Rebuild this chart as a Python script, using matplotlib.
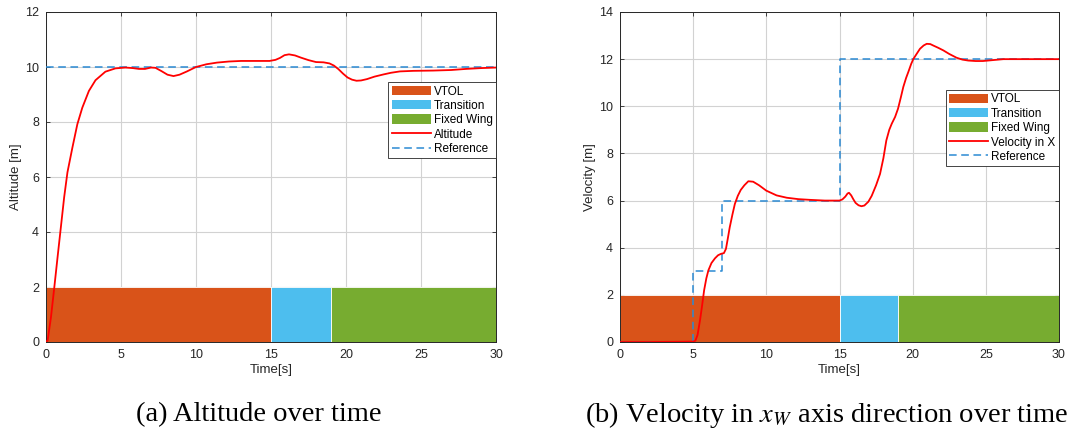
import numpy as np
import matplotlib.pyplot as plt
from matplotlib.patches import Patch
from matplotlib.lines import Line2D

# flight phases (start, end) in seconds, drawn as bars of height 2
phase_names = ["VTOL", "Transition", "Fixed Wing"]
phase_start = [0, 15, 19]
phase_end = [15, 19, 30]
phase_height = 2
phase_colors = ["#D95319", "#4DBEEE", "#77AC30"]

# altitude response
alt_t = [0, 0.11, 0.33, 0.55, 0.77, 0.99, 1.21, 1.43, 1.76, 2.09, 2.42, 2.86, 3.3, 3.96,
         4.63, 5.29, 5.8, 6.2, 6.6, 7.0, 7.3, 7.7, 8.1, 8.5, 8.9, 9.4, 10.0, 10.7,
         11.4, 12.2, 13.0, 14.0, 14.9, 15.3, 15.6, 15.9, 16.2, 16.6, 17.0, 17.5, 18.0,
         18.5, 18.9, 19.2, 19.5, 19.8, 20.1, 20.4, 20.7, 21.0, 21.4, 21.9, 22.5, 23.0,
         23.6, 24.5, 25.8, 27.0, 28.0, 29.0, 30.0]
alt_v = [0, 0.06, 0.9, 1.97, 3.08, 4.17, 5.26, 6.17, 7.07, 7.92, 8.52, 9.13, 9.52, 9.83,
         9.95, 9.98, 9.96, 9.93, 9.93, 9.98, 9.97, 9.85, 9.72, 9.67, 9.72, 9.84,
         10.0, 10.1, 10.16, 10.2, 10.22, 10.22, 10.22, 10.26, 10.33, 10.43, 10.46, 10.42,
         10.34, 10.25, 10.18, 10.17, 10.13, 10.05, 9.92, 9.76, 9.62, 9.54, 9.5, 9.51, 9.56,
         9.65, 9.73, 9.79, 9.84, 9.86, 9.87, 9.89, 9.93, 9.96, 9.98]
alt_ref_t = [0, 30]
alt_ref_v = [10, 10]

# velocity response along x
vel_t = [0, 2.0, 4.0, 5.0, 5.15, 5.3, 5.47, 5.6, 5.75, 5.9, 6.04, 6.25, 6.49, 6.7, 6.9,
         7.1, 7.24, 7.37, 7.5, 7.68, 7.85, 8.05, 8.25, 8.5, 8.77, 9.1, 9.5, 10.0, 10.7,
         11.4, 12.2, 13.0, 14.0, 15.0, 15.2, 15.4, 15.55, 15.65, 15.8, 15.95, 16.1, 16.3,
         16.5, 16.7, 16.97, 17.2, 17.5, 17.77, 18.0, 18.2, 18.4, 18.57, 18.8, 19.0,
         19.2, 19.36, 19.55, 19.7, 19.9, 20.05, 20.3, 20.5, 20.75, 20.96, 21.2, 21.4,
         21.75, 22.1, 22.5, 23.0, 23.4, 23.8, 24.3, 24.8, 25.5, 26.2, 27.5, 30.0]
vel_v = [0, 0, 0.01, 0.02, 0.05, 0.3, 0.93, 1.5, 2.2, 2.7, 3.04, 3.35, 3.55, 3.68, 3.74,
         3.77, 3.95, 4.4, 4.87, 5.4, 5.86, 6.2, 6.45, 6.65, 6.82, 6.8, 6.65, 6.42, 6.22,
         6.12, 6.06, 6.03, 6.0, 6.0, 6.05, 6.17, 6.3, 6.33, 6.22, 6.05, 5.9, 5.8, 5.76,
         5.79, 5.95, 6.2, 6.65, 7.13, 7.8, 8.55, 9.0, 9.26, 9.55, 9.9, 10.4, 10.82, 11.2,
         11.45, 11.8, 12.01, 12.25, 12.44, 12.58, 12.65, 12.64, 12.58, 12.48, 12.37,
         12.22, 12.06, 11.98, 11.94, 11.92, 11.92, 11.96, 12.0, 12.0, 12.0]
vel_ref_t = [0, 5, 5, 7, 7, 15, 15, 30]
vel_ref_v = [0, 0, 3, 3, 6, 6, 12, 12]

plt.rcParams["font.family"] = ["Liberation Sans", "DejaVu Sans"]
plt.rcParams["mathtext.fontset"] = "stix"

fig = plt.figure(figsize=(10.67, 4.32), dpi=100)
ax1 = fig.add_axes([46 / 1067, 90 / 432, 450 / 1067, 330 / 432])
ax2 = fig.add_axes([620 / 1067, 90 / 432, 439 / 1067, 330 / 432])

ref_color = "#2b8ad3"
text_color = "#262626"


def draw_panel(ax, t, v, ref_t, ref_v, ymax, line_label, legend_top):
    ax.bar(phase_start, phase_height, width=np.subtract(phase_end, phase_start),
           align="edge", color=phase_colors, edgecolor="white", linewidth=0.6, zorder=2)
    ax.plot(ref_t, ref_v, color=ref_color, linestyle=(0, (5, 3)), linewidth=1.1, zorder=3)
    ax.plot(t, v, color="#ff0000", linewidth=1.3, zorder=4)
    ax.set_xlim(0, 30)
    ax.set_ylim(0, ymax)
    ax.set_xticks(range(0, 31, 5))
    ax.set_yticks(range(0, ymax + 1, 2))
    ax.grid(True, color="#d2d2d2", linewidth=0.8, zorder=0)
    ax.set_axisbelow(True)
    ax.tick_params(direction="in", length=3, width=0.6, labelsize=9,
                   colors=text_color, top=True, right=True, pad=5)
    for s in ax.spines.values():
        s.set_linewidth(0.7)
        s.set_color(text_color)
    ax.set_xlabel("Time[s]", fontsize=9.5, color=text_color, labelpad=2)
    handles = [Patch(facecolor=c, edgecolor="none") for c in phase_colors]
    handles += [Line2D([], [], color="#ff0000", linewidth=1.3),
                Line2D([], [], color=ref_color, linestyle=(0, (5, 3)), linewidth=1.1)]
    leg = ax.legend(handles, phase_names + [line_label, "Reference"], loc="upper right",
                    bbox_to_anchor=(1.0, legend_top), borderaxespad=0, fontsize=8.5,
                    handlelength=3.3, handleheight=0.85, handletextpad=0.25,
                    labelspacing=0.2, borderpad=0.3, fancybox=False, framealpha=1)
    leg.get_frame().set_edgecolor(text_color)
    leg.get_frame().set_linewidth(0.6)
    leg.set_zorder(10)


draw_panel(ax1, alt_t, alt_v, alt_ref_t, alt_ref_v, 12, "Altitude", 0.788)
ax1.set_ylabel("Altitude [m]", fontsize=9.5, color=text_color, labelpad=2)

draw_panel(ax2, vel_t, vel_v, vel_ref_t, vel_ref_v, 14, "Velocity in X", 0.764)
ax2.set_ylabel("Velocity [m]", fontsize=9.5, color=text_color, labelpad=2)

fig.text(259 / 1067, 1 - 415 / 432, "(a) Altitude over time", ha="center", va="center",
         family="Liberation Serif", fontsize=20.5)
fig.text(585 / 1067, 1 - 415 / 432, "(b) Velocity in $x_W$ axis direction over time",
         ha="left", va="center", family="Liberation Serif", fontsize=20.5)

fig.savefig("out.png", dpi=100)
